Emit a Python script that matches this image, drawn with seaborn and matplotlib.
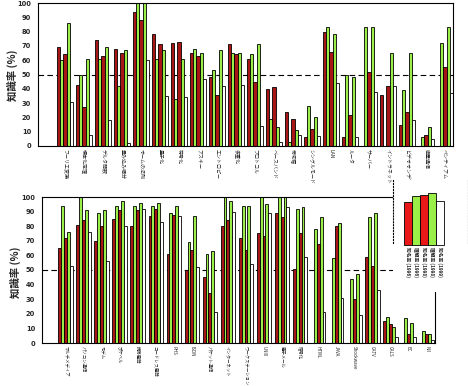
import matplotlib
matplotlib.use("Agg")
import matplotlib.pyplot as plt
import seaborn as sns
import pandas as pd

sns.set_theme(style="white")
plt.rcParams['font.family'] = ['Noto Sans CJK JP', 'DejaVu Sans']

series_labels = ["知名率 (1996)", "理解率 (1996)", "知名率 (1998)", "理解率 (1998)", "知名率 (1999)"]
series_colors = ["#e81818", "#9aee48", "#e81818", "#9aee48", "#ffffff"]
bar_colors = ["#a81616", "#9aee48", "#a81616", "#9aee48", "#ffffff"]
legend_heights = [0.78, 0.89, 0.91, 0.95, 0.80]

top_cats = ["フーリエ変換", "標本化定理", "デルタ関数", "畳み込み積分", "オームの法則", "量子化",
            "符号化", "アスキー", "エントロピー", "多重化", "プロトコル", "ベースバンド", "帯域幅",
            "シングルモード", "LAN", "ルータ", "サーバー", "イントラネット", "ビデオオンデマンド",
            "衛星通信", "ペンティアム"]
top_s1 = [69, 43, 74, 68, 94, 78, 72, 65, 48, 71, 61, 40, 24, 6, 80, 6, 0, 36, 15, 0, 0]
top_s2 = [60, 50, 61, 42, 100, 61, 33, 68, 53, 65, 64, 19, 3, 28, 83, 50, 83, 0, 39, 6, 72]
top_s3 = [64, 27, 63, 65, 88, 71, 73, 63, 36, 64, 45, 41, 19, 12, 66, 22, 52, 42, 24, 8, 55]
top_s4 = [86, 61, 69, 67, 100, 67, 61, 65, 67, 65, 71, 13, 11, 20, 78, 48, 83, 65, 65, 13, 83]
top_s5 = [31, 8, 18, 2, 60, 35, 34, 47, 42, 43, 14, 3, 8, 7, 44, 6, 38, 42, 18, 5, 37]

bot_cats = ["マルチメディア", "パソコン通信", "モデム", "ポケベル", "携帯電話", "コードレス電話",
            "PHS", "ISDN", "パケット通信", "インターネット", "ワークステーション", "UNIX",
            "電子メール", "暗号化", "HTML", "JAVA", "Shockwave", "CATV", "CALS", "EC", "NII"]
bot_s1 = [65, 81, 70, 85, 80, 87, 61, 50, 45, 80, 72, 75, 89, 51, 0, 0, 0, 59, 15, 0, 0]
bot_s2 = [94, 100, 89, 94, 94, 94, 89, 69, 61, 100, 94, 100, 100, 92, 78, 58, 44, 86, 18, 17, 8]
bot_s3 = [72, 84, 80, 91, 91, 92, 88, 64, 34, 84, 64, 73, 86, 75, 68, 80, 30, 53, 13, 6, 6]
bot_s4 = [76, 91, 91, 97, 96, 96, 94, 87, 63, 97, 94, 95, 100, 93, 86, 82, 47, 89, 11, 14, 6]
bot_s5 = [53, 76, 56, 80, 92, 83, 87, 52, 21, 90, 54, 89, 93, 59, 21, 31, 19, 36, 4, 4, 2]

yticks = list(range(0, 101, 10))
ylabel = "知識率 (%)"


def long_df(cats, series):
    rows = []
    for lab, vals in zip(series_labels, series):
        for c, v in zip(cats, vals):
            rows.append({"cat": c, "val": v, "series": lab})
    return pd.DataFrame(rows)


W, H = 468, 386
fig = plt.figure(figsize=(W / 100, H / 100), dpi=100)

ax_top = fig.add_axes([38 / W, 1 - 146 / H, 415 / W, 143 / H])
ax_bot = fig.add_axes([42 / W, 1 - 343 / H, 393 / W, 146 / H])

palette = dict(zip(series_labels, bar_colors))

for ax, cats, series, xl, fs in [
    (ax_top, top_cats, [top_s1, top_s2, top_s3, top_s4, top_s5], (-1.42, 20.42), 3.6),
    (ax_bot, bot_cats, [bot_s1, bot_s2, bot_s3, bot_s4, bot_s5], (-1.3, 20.47), 3.2),
]:
    df = long_df(cats, series)
    sns.barplot(data=df, x="cat", y="val", hue="series", order=cats,
                hue_order=series_labels, palette=palette, width=0.8,
                edgecolor="black", linewidth=0.6, ax=ax, legend=False,
                errorbar=None, saturation=1)
    ax.set_xlim(*xl)
    ax.set_ylim(0, 100)
    ax.axhline(50, color="black", lw=0.8, ls=(0, (5, 3)), zorder=0)
    ax.set_yticks(yticks)
    ax.set_yticklabels([str(t) for t in yticks], fontsize=4.8, family="DejaVu Sans",
                       fontweight="bold")
    ax.set_xticks(range(len(cats)))
    ax.set_xticklabels(cats, rotation=270, fontsize=fs, ha="center", va="top")
    ax.tick_params(axis="x", length=0, pad=2)
    ax.tick_params(axis="y", length=0, pad=5)
    ax.set_xlabel("")
    ax.set_ylabel("")
    for s in ax.spines.values():
        s.set_color("black")
        s.set_linewidth(0.8)

fig.text(12 / W, 1 - 75 / H, ylabel, rotation=90, fontsize=7.5, fontweight="bold",
         ha="center", va="center")
fig.text(15 / W, 1 - 272 / H, ylabel, rotation=90, fontsize=7.5, fontweight="bold",
         ha="center", va="center")

# legend panel
ax_leg = fig.add_axes([393 / W, 1 - 292 / H, 75 / W, 112 / H])
ax_leg.set_facecolor("white")
ax_leg.bar(range(len(series_labels)), legend_heights, width=1.0,
           color=series_colors, edgecolor="black", linewidth=0.6)
ax_leg.set_xlim(-1.875, 7.5)
ax_leg.set_ylim(-0.855, 1.18)
ax_leg.set_xticks([])
ax_leg.set_yticks([])
for k, lab in enumerate(series_labels):
    ax_leg.text(k, -0.03, lab, rotation=270, fontsize=3.4, ha="center", va="top",
                fontweight="bold")
for side in ["top", "bottom"]:
    ax_leg.spines[side].set_visible(False)
for side in ["left", "right"]:
    ax_leg.spines[side].set_linestyle(":")
    ax_leg.spines[side].set_linewidth(0.8)
    ax_leg.spines[side].set_color("black")
    ax_leg.spines[side].set_bounds(0.04, 1.18)

fig.savefig("out.png", dpi=100)
